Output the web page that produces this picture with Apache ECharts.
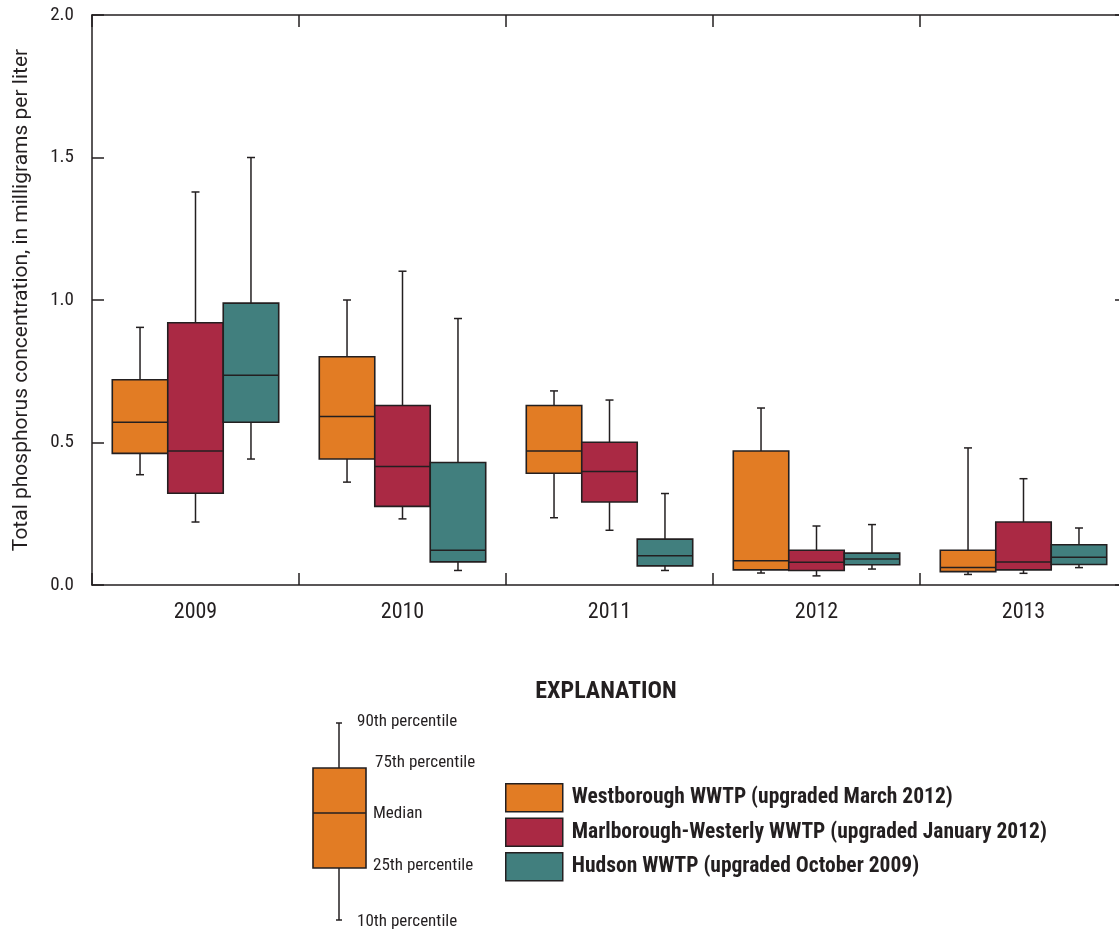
<!DOCTYPE html>
<html>
<head>
<meta charset="utf-8">
<title>Total phosphorus boxplots</title>
<script src="https://cdn.jsdelivr.net/npm/echarts@6/dist/echarts.min.js"></script>
<style>
  html, body { margin: 0; padding: 0; background: #fff; }
  #main { width: 1119px; height: 932px; }
</style>
</head>
<body>
<div id="main"></div>
<script>
// categories
var years = ['2009', '2010', '2011', '2012', '2013'];
var yTicks = [0, 0.5, 1.0, 1.5, 2.0];

// each row: [10th, 25th, median, 75th, 90th] percentile
var westborough = [
  [0.387, 0.462, 0.571, 0.720, 0.904],
  [0.361, 0.442, 0.591, 0.801, 1.000],
  [0.236, 0.392, 0.470, 0.630, 0.681],
  [0.042, 0.053, 0.085, 0.470, 0.621],
  [0.037, 0.047, 0.061, 0.122, 0.481]
];
var marlborough = [
  [0.221, 0.322, 0.470, 0.920, 1.379],
  [0.232, 0.276, 0.416, 0.630, 1.101],
  [0.192, 0.291, 0.398, 0.501, 0.649],
  [0.032, 0.051, 0.080, 0.122, 0.207],
  [0.041, 0.053, 0.081, 0.221, 0.373]
];
var hudson = [
  [0.442, 0.571, 0.736, 0.989, 1.500],
  [0.051, 0.081, 0.122, 0.430, 0.935],
  [0.051, 0.067, 0.103, 0.161, 0.321],
  [0.056, 0.071, 0.091, 0.112, 0.212],
  [0.061, 0.072, 0.097, 0.141, 0.200]
];

var seriesNames = [
  'Westborough WWTP (upgraded March 2012)',
  'Marlborough-Westerly WWTP (upgraded January 2012)',
  'Hudson WWTP (upgraded October 2009)'
];
var seriesColors = ['#E27C24', '#AA2944', '#417F7E'];

var font = '"Liberation Sans Narrow", "Roboto Condensed", "Liberation Sans", sans-serif';
var wideFont = 'Roboto, "Liberation Sans", sans-serif';
var ink = '#231F20';

// box drawn with custom series so the three boxes sit side by side
function makeRender(slot) {
  return function (params, api) {
    var band = api.size([1, 0])[0];
    var bw = band * 0.268;
    var cx = api.coord([api.value(0), 0])[0] + slot * bw;
    var p10 = api.coord([api.value(0), api.value(1)])[1];
    var p25 = api.coord([api.value(0), api.value(2)])[1];
    var med = api.coord([api.value(0), api.value(3)])[1];
    var p75 = api.coord([api.value(0), api.value(4)])[1];
    var p90 = api.coord([api.value(0), api.value(5)])[1];
    var cap = 4;
    var ls = { stroke: ink, lineWidth: 1.5 };
    return {
      type: 'group',
      children: [
        { type: 'line', shape: { x1: cx, y1: p10, x2: cx, y2: p25 }, style: ls },
        { type: 'line', shape: { x1: cx - cap, y1: p10, x2: cx + cap, y2: p10 }, style: ls },
        { type: 'line', shape: { x1: cx, y1: p75, x2: cx, y2: p90 }, style: ls },
        { type: 'line', shape: { x1: cx - cap, y1: p90, x2: cx + cap, y2: p90 }, style: ls },
        { type: 'rect', shape: { x: cx - bw / 2, y: p75, width: bw, height: p25 - p75 },
          style: { fill: api.visual('color'), stroke: ink, lineWidth: 1.6 } },
        { type: 'line', shape: { x1: cx - bw / 2, y1: med, x2: cx + bw / 2, y2: med }, style: ls }
      ]
    };
  };
}

function toData(rows) {
  return rows.map(function (r, i) { return [i].concat(r); });
}

var groups = [westborough, marlborough, hudson];
var series = groups.map(function (rows, k) {
  return {
    name: seriesNames[k],
    type: 'custom',
    renderItem: makeRender(k - 1),
    itemStyle: { color: seriesColors[k] },
    encode: { x: 0, y: [1, 2, 3, 4, 5] },
    data: toData(rows),
    z: 3
  };
});

var myChart = echarts.init(document.getElementById('main'));

var axisLine = { show: true, onZero: false, lineStyle: { color: ink, width: 1.5 } };
var tickIn = { show: true, inside: true, length: 12, lineStyle: { color: ink, width: 1.5 } };
var lbl = '17px ' + font;
var option = {
  animation: false,
  backgroundColor: '#fff',
  textStyle: { fontFamily: font },
  grid: { left: 92, top: 15, width: 1035, height: 570, outerBoundsMode: 'none', containLabel: false },
  legend: {
    orient: 'vertical',
    left: 505,
    top: 783,
    padding: 0,
    itemWidth: 57,
    itemHeight: 28,
    itemGap: 5,
    icon: 'rect',
    selectedMode: false,
    itemStyle: { borderColor: ink, borderWidth: 1.5 },
    textStyle: { fontFamily: font, fontSize: 21.5, fontWeight: 'bold', color: ink, padding: [0, 0, 0, 4] },
    data: seriesNames
  },
  xAxis: [
    {
      type: 'category',
      position: 'bottom',
      data: years,
      boundaryGap: true,
      axisLine: axisLine,
      axisTick: tickIn,
      axisLabel: { fontSize: 22, color: ink, margin: 16, fontFamily: font },
      splitLine: { show: false }
    },
    {
      type: 'category',
      position: 'top',
      data: years,
      boundaryGap: true,
      axisLine: axisLine,
      axisTick: tickIn,
      axisLabel: { show: false },
      splitLine: { show: false }
    }
  ],
  yAxis: [
    {
      type: 'value',
      position: 'left',
      min: yTicks[0],
      max: yTicks[yTicks.length - 1],
      interval: 0.5,
      name: 'Total phosphorus concentration, in milligrams per liter',
      nameLocation: 'middle',
      nameGap: 60,
      nameTextStyle: { fontSize: 21, color: ink, fontFamily: wideFont },
      axisLine: axisLine,
      axisTick: tickIn,
      axisLabel: {
        fontSize: 19, color: ink, margin: 18, fontFamily: font,
        formatter: function (v) { return v.toFixed(1); }
      },
      splitLine: { show: false }
    },
    {
      type: 'value',
      position: 'right',
      min: 0,
      max: 2,
      interval: 1,
      axisLine: axisLine,
      axisTick: tickIn,
      axisLabel: { show: false },
      splitLine: { show: false }
    }
  ],
  graphic: [
    { type: 'text', x: 606, y: 692,
      style: { text: 'EXPLANATION', font: 'bold 24px ' + font, fill: ink, align: 'center', verticalAlign: 'middle' } },
    // explanation box diagram
    { type: 'line', shape: { x1: 339, y1: 723, x2: 339, y2: 768 }, style: { stroke: ink, lineWidth: 1.5 } },
    { type: 'line', shape: { x1: 336, y1: 723, x2: 342, y2: 723 }, style: { stroke: ink, lineWidth: 1.5 } },
    { type: 'line', shape: { x1: 339, y1: 868, x2: 339, y2: 920 }, style: { stroke: ink, lineWidth: 1.5 } },
    { type: 'line', shape: { x1: 336, y1: 920, x2: 342, y2: 920 }, style: { stroke: ink, lineWidth: 1.5 } },
    { type: 'rect', shape: { x: 313, y: 768, width: 53, height: 100 },
      style: { fill: seriesColors[0], stroke: ink, lineWidth: 1.6 } },
    { type: 'line', shape: { x1: 313, y1: 813, x2: 366, y2: 813 }, style: { stroke: ink, lineWidth: 1.5 } },
    { type: 'text', x: 357, y: 722, style: { text: '90th percentile', font: lbl, fill: ink, verticalAlign: 'middle' } },
    { type: 'text', x: 375, y: 763, style: { text: '75th percentile', font: lbl, fill: ink, verticalAlign: 'middle' } },
    { type: 'text', x: 373, y: 814, style: { text: 'Median', font: lbl, fill: ink, verticalAlign: 'middle' } },
    { type: 'text', x: 373, y: 866, style: { text: '25th percentile', font: lbl, fill: ink, verticalAlign: 'middle' } },
    { type: 'text', x: 357, y: 922, style: { text: '10th percentile', font: lbl, fill: ink, verticalAlign: 'middle' } }
  ],
  series: series
};
myChart.setOption(option);
</script>
</body>
</html>
